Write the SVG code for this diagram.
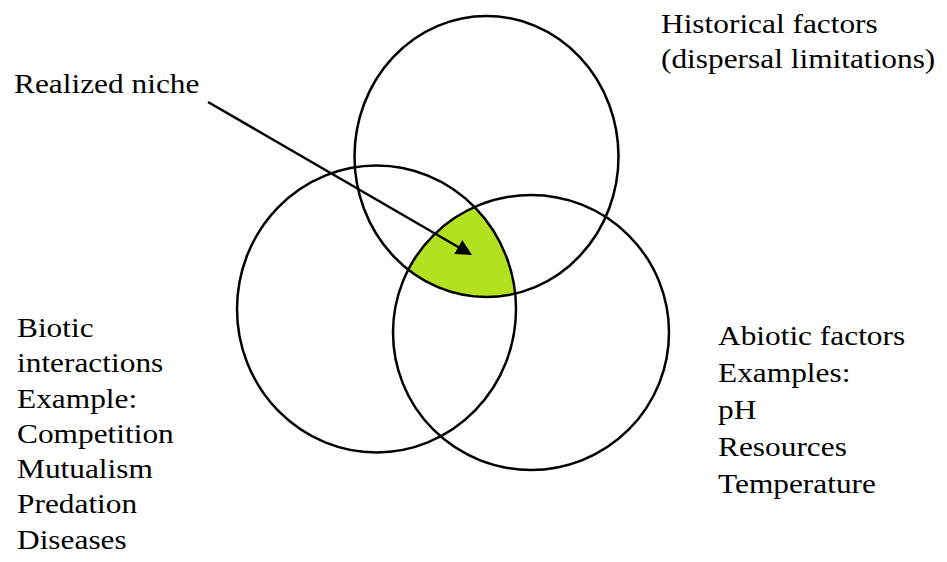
<svg xmlns="http://www.w3.org/2000/svg" width="947" height="562" viewBox="0 0 947 562">
  <style>
    .ring { fill: none; stroke: #000; stroke-width: 2.5; }
    .lbl { font-size: 28px; fill: #000; }
    .conn { stroke: #000; stroke-width: 2.5; fill: none; }
  </style>
  <defs>
    <clipPath id="cL"><ellipse cx="376.5" cy="309" rx="139.5" ry="143.5"/></clipPath>
    <clipPath id="cR"><ellipse cx="531" cy="332.5" rx="138" ry="137.5"/></clipPath>
    <marker id="arrow" viewBox="0 0 16 16" markerWidth="16" markerHeight="16" refX="6" refY="8" orient="auto" markerUnits="userSpaceOnUse">
      <path d="M0,0 L16,8 L0,16 z" fill="#000"/>
    </marker>
  </defs>
  <rect width="947" height="562" fill="#fff"/>

  <g id="realized-niche-area">
    <g clip-path="url(#cL)">
      <g clip-path="url(#cR)">
        <ellipse cx="486.5" cy="156.5" rx="132" ry="140.5" fill="#b4e11f"/>
      </g>
    </g>
  </g>

  <g font-family="'Liberation Serif', 'Times New Roman', Times, serif">
  <g id="historical">
    <ellipse class="ring" cx="486.5" cy="156.5" rx="132" ry="140.5"/>
    <text class="lbl" transform="translate(661,0) scale(1.12,1)"><tspan x="0" y="33">Historical factors</tspan><tspan x="0" y="68">(dispersal limitations)</tspan></text>
  </g>

  <g id="biotic">
    <ellipse class="ring" cx="376.5" cy="309" rx="139.5" ry="143.5"/>
    <text class="lbl" transform="translate(17,0) scale(1.12,1)"><tspan x="0" y="337">Biotic</tspan><tspan x="0" y="372.3">interactions</tspan><tspan x="0" y="407.6">Example:</tspan><tspan x="0" y="443">Competition</tspan><tspan x="0" y="478.2">Mutualism</tspan><tspan x="0" y="513.5">Predation</tspan><tspan x="0" y="548.8">Diseases</tspan></text>
  </g>

  <g id="abiotic">
    <ellipse class="ring" cx="531" cy="332.5" rx="138" ry="137.5"/>
    <text class="lbl" transform="translate(718,0) scale(1.12,1)"><tspan x="0" y="345">Abiotic factors</tspan><tspan x="0" y="382">Examples:</tspan><tspan x="0" y="419.5">pH</tspan><tspan x="0" y="456.5">Resources</tspan><tspan x="0" y="493.3">Temperature</tspan></text>
  </g>

  <g id="realized-niche-label">
    <text class="lbl" transform="translate(14,0) scale(1.12,1)"><tspan x="0" y="93">Realized niche</tspan></text>
  </g>
  </g>

  <g id="connectors">
    <line class="conn" x1="208" y1="102" x2="463.4" y2="250" marker-end="url(#arrow)"/>
  </g>
</svg>
